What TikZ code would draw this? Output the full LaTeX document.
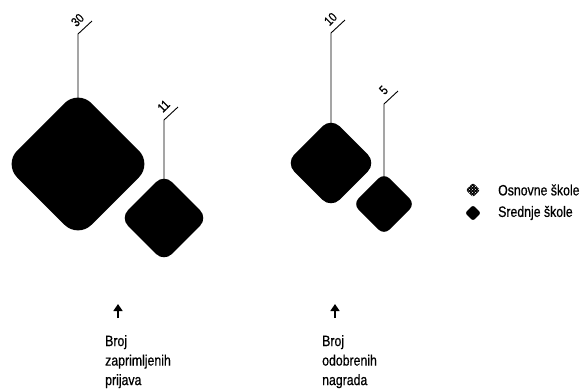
\documentclass[tikz,border=0pt]{standalone}
\usepackage{fontspec}
\setmainfont{Liberation Sans}[FakeStretch=0.82, FakeBold=0.6]
\usepackage{tikz}
\usetikzlibrary{arrows.meta}
\usetikzlibrary{positioning}
\usetikzlibrary{backgrounds}
\usetikzlibrary{patterns}

\tikzset{
  blob/.style 2 args={fill=black, inner sep=0pt, rotate=45, minimum size=#1, rounded corners=#2},
  lead/.style={line width=0.9pt},
  val/.style={pos=0.5, anchor=south, rotate=45, inner sep=5.5pt, font=\fontsize{13}{13}\selectfont},
  captxt/.style={align=left, inner sep=0pt, anchor=north west, font=\fontsize{15}{19.5}\selectfont},
  legtxt/.style={anchor=west, inner sep=0pt, font=\fontsize{15}{15}\selectfont},
  up/.style={-{Triangle[width=9pt,length=7pt]}, line width=1.7pt}
}

\begin{document}
\begin{tikzpicture}[x=1pt,y=-1pt]
  \useasboundingbox (0,0) rectangle (582,389);

  \node[blob={105pt}{19pt}] (iOsnPr) at (78,164) {};
  \node[blob={62pt}{11pt}] (iSrePr) at (164,218) {};
  \node[blob={64pt}{12pt}] (iOsnNa) at (331,163) {};
  \node[blob={44pt}{8pt}] (iSreNa) at (384,204) {};

  \coordinate (kOsnPr) at (78,34);
  \coordinate (eOsnPr) at (92,21);
  \coordinate (kSrePr) at (164,120);
  \coordinate (eSrePr) at (178,107);
  \coordinate (kOsnNa) at (331,33);
  \coordinate (eOsnNa) at (345,20);
  \coordinate (kSreNa) at (384,104);
  \coordinate (eSreNa) at (398,91);

  \begin{scope}[on background layer]
    \draw[lead] (iOsnPr.center) -- (kOsnPr) -- node[val] {30} (eOsnPr);
    \draw[lead] (iSrePr.center) -- (kSrePr) -- node[val] {11} (eSrePr);
    \draw[lead] (iOsnNa.center) -- (kOsnNa) -- node[val] {10} (eOsnNa);
    \draw[lead] (iSreNa.center) -- (kSreNa) -- node[val] {5} (eSreNa);
  \end{scope}

  \node[blob={10pt}{2pt}, postaction={pattern=crosshatch dots, pattern color=white}] (lOsn) at (473,190) {};
  \node[blob={11pt}{2pt}] (lSre) at (473,213) {};
  \node[legtxt, right=25pt of lOsn.center] (tOsn) {Osnovne škole};
  \node[legtxt, right=25pt of lSre.center] (tSre) {Srednje škole};

  \node[captxt] (tPr) at (105,335) {Broj\\zaprimljenih\\prijava};
  \node[captxt] (tNa) at (322,335) {Broj\\odobrenih\\nagrada};

  \coordinate (aPrTail) at (118,318);
  \coordinate (aPrTip) at (118,304);
  \coordinate (aNaTail) at (335,318);
  \coordinate (aNaTip) at (335,304);
  \draw[up] (aPrTail) -- (aPrTip);
  \draw[up] (aNaTail) -- (aNaTip);
\end{tikzpicture}
\end{document}
